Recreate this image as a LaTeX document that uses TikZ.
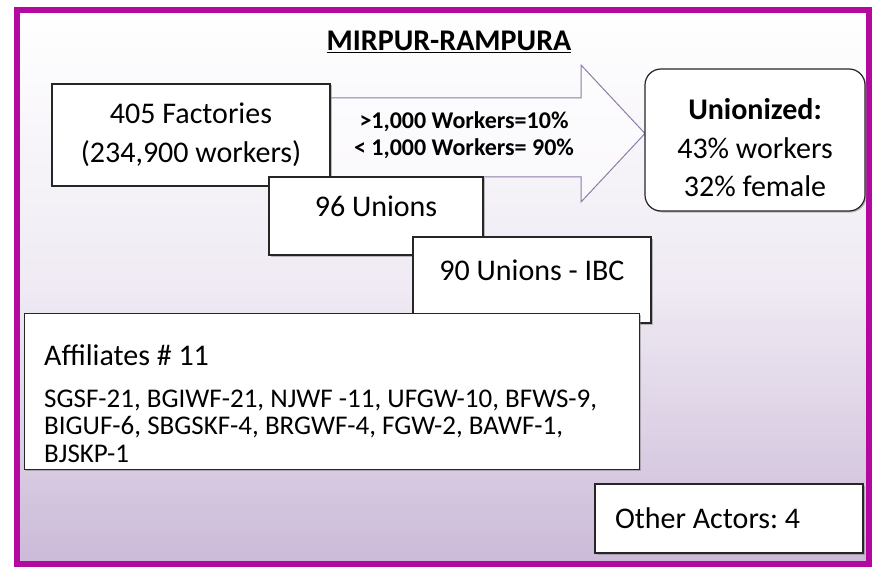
\documentclass[tikz,border=0pt]{standalone}
\usepackage{fontspec}
\setmainfont{Carlito}
\usetikzlibrary{positioning,shadows}
\definecolor{framemag}{HTML}{B4099E}
\definecolor{bgbot}{HTML}{CBBAD8}
\definecolor{arrowline}{HTML}{8C7DAA}

\begin{document}
\begin{tikzpicture}[x=1pt,y=-1pt]
\tikzset{box/.style={draw=black!85, line width=1.2pt, fill=white, inner sep=0pt,
    drop shadow={shadow xshift=1.5pt, shadow yshift=-1.5pt, opacity=.5},
    font=\fontsize{30}{38.5}\selectfont}}
\tikzset{upper/.style={text height=20pt, text depth=20pt}}
\useasboundingbox (0,0) rectangle (876,567);
\shade[top color=white, bottom color=bgbot, middle color=bgbot!30!white] (16.5,10) rectangle (868.5,563.5);
\draw[framemag, line width=6pt] (16.5,10) rectangle (868.5,563.5);

\node[font=\fontsize{30}{30}\selectfont\bfseries] (title) at (449,42) {\underline{MIRPUR-RAMPURA}};

% big arrow
\draw[arrowline, line width=1pt, fill=white, fill opacity=.5]
    (310,98) -- (581,98) -- (581,65) -- (645,133.5) -- (581,202) -- (581,177) -- (310,177) -- cycle;
\node[font=\fontsize{24}{27}\selectfont\bfseries, align=center] (ratio) at (464,135)
    {>1,000 Workers=10\%\\< 1,000 Workers= 90\%};

\node[box, minimum width=278, minimum height=102, align=center] (fact) at (191,135)
    {405 Factories\\(234,900 workers)};
\node[box, upper, minimum width=214, minimum height=78] (u96) at (376,216) {96 Unions};
\node[box, upper, minimum width=238, minimum height=86] (u90) at (532,280) {90 Unions - IBC};

\node[box, minimum width=615, minimum height=156, anchor=north west] (aff) at (24,313) {};
\node[font=\fontsize{27}{27.5}\selectfont, align=left, inner sep=0pt,
    below right=31pt and 20pt of aff.north west] (afflist)
    {{\fontsize{30}{27.5}\selectfont Affiliates \# 11}\\[14.5pt]
     SGSF-21, BGIWF-21, NJWF -11, UFGW-10, BFWS-9,\\
     BIGUF-6, SBGSKF-4, BRGWF-4, FGW-2, BAWF-1,\\
     BJSKP-1};

\node[box, rounded corners=16pt, minimum width=220, minimum height=142, align=center] (union) at (755,140)
    {\rule{0pt}{37pt}\textbf{Unionized:}\\43\% workers\\32\% female};
\node[box, minimum width=268, minimum height=69, text width=228, inner xsep=20pt, align=flush left] (other)
    at (729,518.5) {\frenchspacing Other Actors: 4};
\end{tikzpicture}
\end{document}
